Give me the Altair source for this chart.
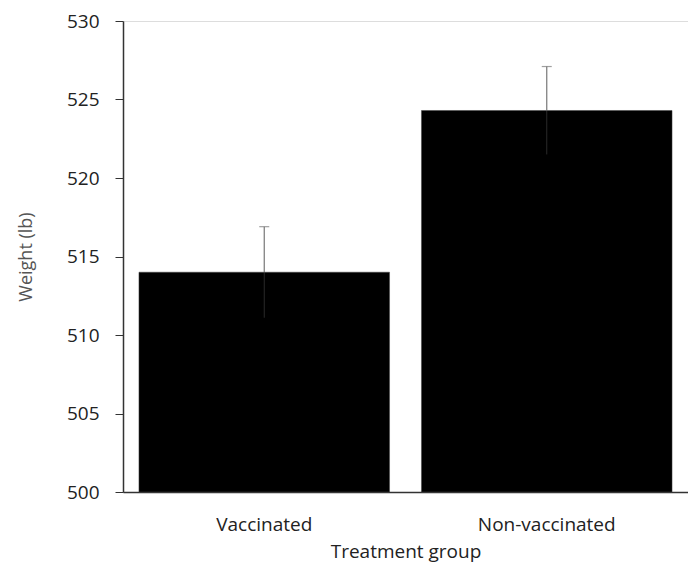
import altair as alt
import pandas as pd

groups = ["Vaccinated", "Non-vaccinated"]
means = [514.0, 524.3]
errors = [2.9, 2.8]

df = pd.DataFrame({
    "group": groups,
    "mean": means,
    "base": [500, 500],
    "hi": [m + e for m, e in zip(means, errors)],
    "lo": [m - e for m, e in zip(means, errors)],
})

FONT = "Open Sans"

x = alt.X("group:N", sort=groups, title="Treatment group",
          scale=alt.Scale(paddingInner=0.113, paddingOuter=0.0565),
          axis=alt.Axis(labelAngle=0, ticks=False, tickSize=0, labelPadding=23,
                        titlePadding=8, labelFontSize=19, titleFontSize=19,
                        labelColor="#222222", titleColor="#222222",
                        domainColor="#333333", domainWidth=1.5,
                        labelFont=FONT, titleFont=FONT, titleFontWeight="normal"))

y = alt.Y("mean:Q", title="Weight (lb)",
          scale=alt.Scale(domain=[500, 530], zero=False, nice=False),
          axis=alt.Axis(values=[500, 505, 510, 515, 520, 525, 530], grid=False,
                        tickSize=8, tickColor="#333333", labelPadding=16,
                        titlePadding=31, labelFontSize=19, titleFontSize=18,
                        labelColor="#222222", titleColor="#555555",
                        domainColor="#333333", domainWidth=1.5,
                        labelFont=FONT, titleFont=FONT, titleFontWeight="normal"))

bars = alt.Chart(df).mark_bar(color="black", stroke="#444444", strokeWidth=0.5).encode(
    x=x, y=y, y2="base:Q")

err_up = alt.Chart(df).mark_rule(color="#777777", strokeWidth=1.2).encode(
    x=alt.X("group:N", sort=groups), y="mean:Q", y2="hi:Q")
err_lo = alt.Chart(df).mark_rule(color="#2a2a2a", strokeWidth=1).encode(
    x=alt.X("group:N", sort=groups), y="lo:Q", y2="mean:Q")
caps = alt.Chart(df).mark_tick(color="#777777", size=10, thickness=1.2).encode(
    x=alt.X("group:N", sort=groups), y="hi:Q")

chart = alt.layer(bars, err_lo, err_up, caps).properties(
    width=565, height=471,
    autosize=alt.AutoSizeParams(type="none"),
    padding={"left": 115, "top": 13, "right": 0, "bottom": 76},
).configure_view(stroke=None).configure(background="white")

chart.save("out.html", embed_options={"renderer": "svg", "actions": False})
